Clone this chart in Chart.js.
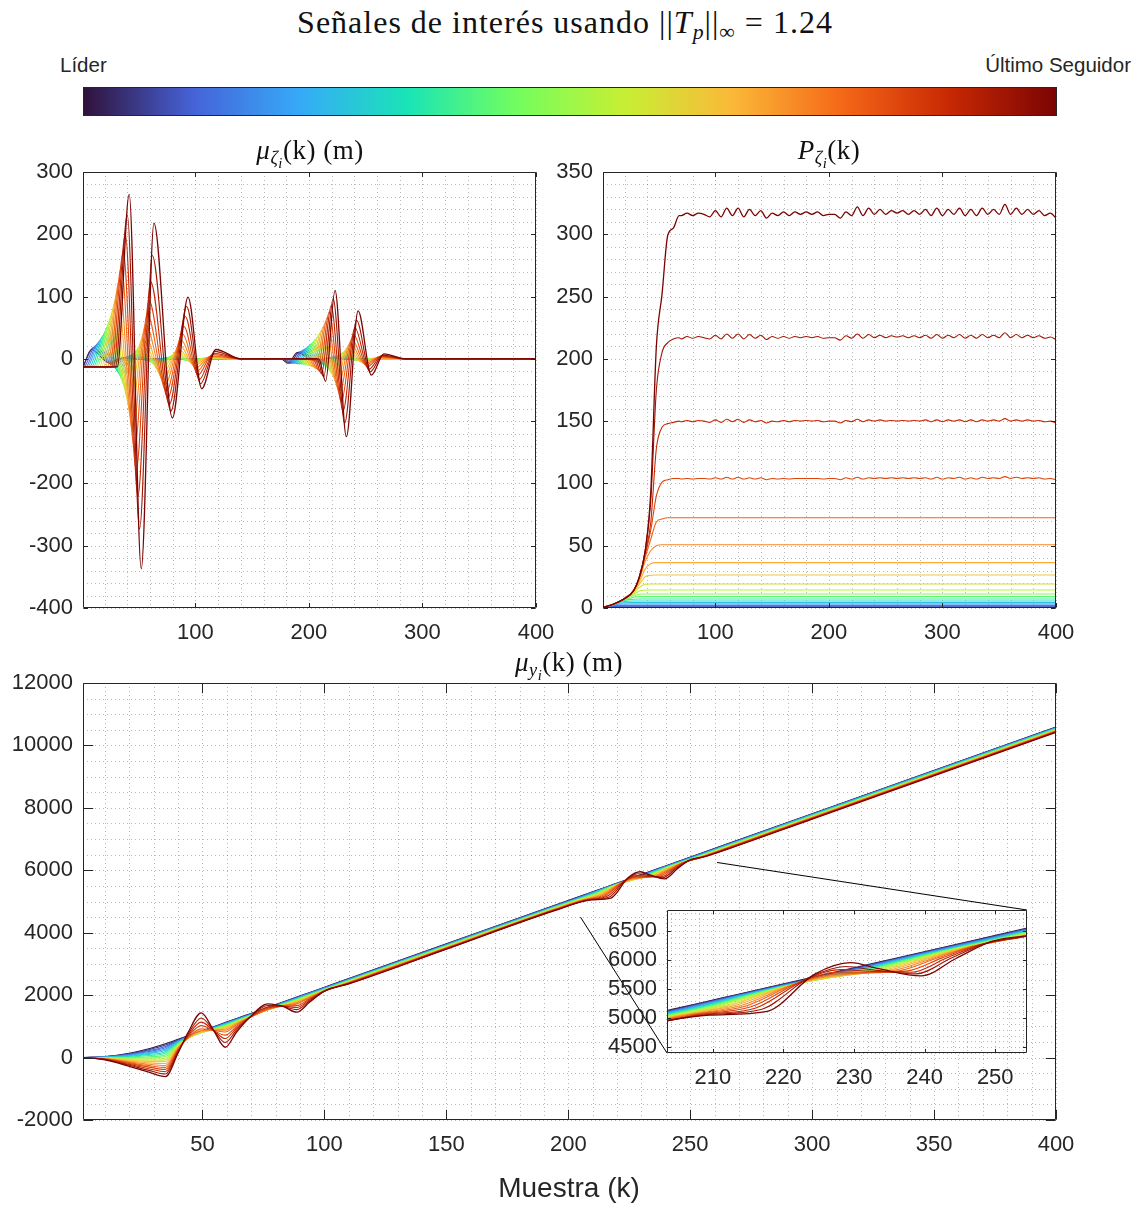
<!DOCTYPE html>
<html lang="es">
<head>
<meta charset="utf-8">
<title>Señales de interés</title>
<script src="https://cdn.jsdelivr.net/npm/chart.js@4.4.1/dist/chart.umd.min.js"></script>
<style>
  html, body { margin: 0; padding: 0; background: #fff; }
  body { position: relative; width: 1138px; height: 1205px; overflow: hidden;
         font-family: "Liberation Sans", Arial, Helvetica, sans-serif; color: #262626; }
  canvas { position: absolute; }
  .txt { position: absolute; white-space: nowrap; line-height: 1; }
  .c { transform: translate(-50%, -50%); }
  .tex { font-family: "Liberation Serif", "Times New Roman", serif; color: #111; }
  .tex sub { font-size: 68%; vertical-align: -0.28em; line-height: 0; }
  .tex sub sub { font-size: 80%; }
  #colorbar { position: absolute; left: 83px; top: 87px; width: 974px; height: 29px;
              box-sizing: border-box; border: 1px solid #262626; }
</style>
</head>
<body>
<canvas id="cMuZ" width="570" height="520" style="left:0;top:130px"></canvas>
<canvas id="cP" width="598" height="520" style="left:540px;top:130px"></canvas>
<canvas id="cMuY" width="1138" height="555" style="left:0;top:650px"></canvas>
<canvas id="cZoom" width="480" height="210" style="left:560px;top:885px"></canvas>

<div class="txt tex c" style="left:565px;top:22px;font-size:32px;letter-spacing:1px">Señales de interés usando ||<i>T</i><sub><i>p</i></sub>||<sub>∞</sub> = 1.24</div>
<div class="txt" style="left:60px;top:55px;font-size:20.5px">Líder</div>
<div class="txt" style="right:7px;top:55px;font-size:20.5px">Último Seguidor</div>
<div id="colorbar"></div>
<div class="txt tex c" style="left:310px;top:150px;font-size:27px;letter-spacing:0.5px"><i>μ</i><sub><i>ζ</i><sub><i>i</i></sub></sub>(k) (m)</div>
<div class="txt tex c" style="left:829px;top:150px;font-size:27px;letter-spacing:0.5px"><i>P</i><sub><i>ζ</i><sub><i>i</i></sub></sub>(k)</div>
<div class="txt tex c" style="left:569px;top:662px;font-size:27px;letter-spacing:0.5px"><i>μ</i><sub><i>y</i><sub><i>i</i></sub></sub>(k) (m)</div>
<div class="txt c" style="left:569px;top:1188px;font-size:28px">Muestra (k)</div>

<script>
// vehicle 0 is the leader, vehicle 19 the last follower
const SERIES = 20;

// ---- mu_zeta: knots of each vehicle's oscillation (k, value), one entry per vehicle ----
const muZ_start  = [-13,-13,-13,-13,-13,-13,-13,-13,-13,-13,-13,-13,-13,-13,-13,-13,-13,-13,-13,-13];
const muZ_onset1 = [1,1,1.5,3.3,5,6.8,8.5,10.3,12,13.8,15.5,17.3,19,20.8,22.5,24.3,26,27.8,29.5,31.2];
const muZ_p1k = [8.5,10.3,12,13.8,15.5,17.3,19,20.8,22.5,24.3,26,27.8,29.5,31.3,33,34.8,36.5,38.3,40,41.7];
const muZ_p1  = [15,18,21,24,28,33,38,44,51,60,69,80,94,109,126,147,171,199,231,264];
const muZ_n1k = [23.8,25.3,26.8,28.3,29.8,31.3,32.8,34.3,35.8,37.3,38.8,40.3,41.8,43.3,44.8,46.3,47.8,49.3,50.8,52.3];
const muZ_n1  = [-6,-8,-9,-12,-14,-18,-22,-27,-33,-41,-51,-63,-77,-95,-118,-145,-179,-221,-273,-337];
const muZ_p2k = [35,36.5,38,39.5,41,42.5,44,45.5,47,48.5,50,51.5,53,54.5,56,57.5,59,60.5,62,63.5];
const muZ_p2  = [1,2,2,3,4,5,6,8,11,14,18,24,32,42,55,72,94,124,166,218];
const muZ_n2k = [55,56.3,57.6,58.9,60.2,61.5,62.8,64.1,65.4,66.7,68,69.3,70.6,71.9,73.2,74.5,75.8,77.1,78.4,79.7];
const muZ_n2  = [-1,-1,-1,-2,-2,-3,-4,-6,-8,-11,-15,-20,-26,-33,-41,-52,-62,-73,-84,-95];
const muZ_p3k = [70.7,71.9,73.1,74.3,75.5,76.7,77.9,79.1,80.3,81.5,82.7,83.9,85.1,86.3,87.5,88.7,89.9,91.1,92.3,93.5];
const muZ_p3  = [0,0,1,1,1,2,2,3,5,6,9,12,16,22,30,40,52,68,84,99];
const muZ_n3k = [84.7,85.8,86.9,88,89.1,90.2,91.3,92.4,93.5,94.6,95.7,96.8,97.9,99,100.1,101.2,102.3,103.4,104.5,105.6];
const muZ_n3  = [0,0,0,0,-1,-1,-1,-2,-2,-3,-4,-6,-8,-11,-15,-20,-26,-33,-40,-48];
const muZ_p4k = [99,100,101,102,103,104,105,106,107,108,109,110,111,112,113,114,115,116,117,118];
const muZ_p4  = [0,0,0,0,0,0,0,0,1,1,1,2,2,3,4,5,7,9,12,15];

const muZ_onset2 = [175.5,177.2,179,180.7,182.5,184.2,186,187.7,189.5,191.2,193,194.7,196.5,198.2,200,201.7,203.5,205.2,207,208.7];
const muZ_b0k = [181.5,183.2,185,186.7,188.5,190.2,192,193.7,195.5,197.2,199,200.7,202.5,204.2,206,207.7,209.5,211.2,213,214.7];
const muZ_b0  = [-7,-7,-7,-7,-7,-8,-8,-8,-9,-9,-10,-11,-12,-13,-15,-17,-20,-24,-29,-36];
const muZ_b1k = [189.8,191.5,193.3,195,196.8,198.5,200.3,202,203.8,205.5,207.3,209,210.8,212.5,214.3,216,217.8,219.5,221.3,223];
const muZ_b1  = [10,11,12,14,16,18,21,24,27,31,35,40,45,51,58,66,75,85,97,110];
const muZ_b2k = [204.5,206,207.5,209,210.5,212,213.5,215,216.5,218,219.5,221,222.5,224,225.5,227,228.5,230,231.5,233];
const muZ_b2  = [-3,-3,-4,-5,-6,-8,-9,-11,-14,-17,-21,-25,-31,-38,-46,-56,-69,-84,-103,-125];
const muZ_b3k = [216.7,218.1,219.5,220.9,222.3,223.7,225.1,226.5,227.9,229.3,230.7,232.1,233.5,234.9,236.3,237.7,239.1,240.5,241.9,243.3];
const muZ_b3  = [1,1,2,2,3,3,4,5,7,9,11,13,17,21,26,32,40,50,62,77];
const muZ_b4k = [232.2,233.4,234.6,235.8,237,238.2,239.4,240.6,241.8,243,244.2,245.4,246.6,247.8,249,250.2,251.4,252.6,253.8,255];
const muZ_b4  = [0,0,0,0,0,-1,-1,-1,-2,-2,-3,-4,-5,-6,-8,-10,-13,-17,-21,-26];
const muZ_b5k = [247,248,249,250,251,252,253,254,255,256,257,258,259,260,261,262,263,264,265,266];
const muZ_b5  = [0,0,0,0,0,0,0,0,0,0,1,1,1,2,2,3,4,5,6,8];
const muZ_rest = [140, 285, 400];   // back to zero between and after the manoeuvres

// ---- P_zeta: common rise, then the settled level (vehicles 16..19 keep a ripple) ----
const pRiseK = [1,10,19,28,33,38,43,48,53,58,63,68];
const pRise = [
  [0.1,0.3,0.3,0.3,0.3,0.3,0.3,0.3,0.3,0.3,0.3,0.3],
  [0.2,0.8,0.8,0.8,0.8,0.8,0.8,0.8,0.8,0.8,0.8,0.8],
  [0.3,1.3,1.4,1.4,1.4,1.4,1.4,1.4,1.4,1.4,1.4,1.4],
  [0.4,1.9,2.1,2.1,2.1,2.1,2.1,2.1,2.1,2.1,2.1,2.1],
  [0.4,2.5,3.2,3.2,3.2,3.2,3.2,3.2,3.2,3.2,3.2,3.2],
  [0.5,2.8,4.2,4.3,4.3,4.3,4.3,4.3,4.3,4.3,4.3,4.3],
  [0.5,3,5.2,5.6,5.6,5.6,5.6,5.6,5.6,5.6,5.6,5.6],
  [0.5,3,6,7,7.2,7.2,7.2,7.2,7.2,7.2,7.2,7.2],
  [0.5,3,6.5,8.6,9.1,9.1,9.1,9.1,9.1,9.1,9.1,9.1],
  [0.5,3,6.8,9.8,11,11.2,11.2,11.2,11.2,11.2,11.2,11.2],
  [0.5,3,7,11,13.6,14.3,14.4,14.4,14.4,14.4,14.4,14.4],
  [0.5,3,7,12,16.5,19,19.3,19.3,19.3,19.3,19.3,19.3],
  [0.5,3,7,13,19,25,26.3,26.5,26.5,26.5,26.5,26.5],
  [0.5,3,7,13.5,21,31,35.5,36.4,36.4,36.4,36.4,36.4],
  [0.5,3,7,14,23,37,46,50,50.8,50.8,50.8,50.8],
  [0.5,3,7,14,24,40,55,69,71.5,72.5,72.5,72.5],
  [0.5,3,7,14,24,42,62,90,101,103,104,104],
  [0.5,3,7,14,25,44,68,128,145,148,149,150],
  [0.5,3,7,14,25,45,85,175,205,213,216,217],
  [0.5,3,7,14,25,45,92,210,252,299,305,315]
];
const pPlatK = Array.from({ length: 67 }, (_, j) => 70 + 5 * j);
const pPlat16 = [103.5,104,103.5,104,104,103.5,
  104.5,103.5,105,103.5,105,103.5,104.5,103.5,104.5,103,104,103.5,104,103.5,104,104,104,104,104,103.5,
  104,104,103,104.5,103.5,105,103.5,104.5,104,104.5,104,104.5,104,104.5,104,104.5,104,104.5,103.5,105,
  103.5,104.5,104,105,103.5,104.5,103.5,105,104,104.5,104,105.5,104,105,104,104.5,104,104.5,103.5,104,
  103];
const pPlat17 = [149.5,150.5,149.5,150.5,150,149,
  151,149,151.5,149.5,151.5,149,151,149.5,150.5,148.5,150,149.5,150.5,149.5,150.5,150,150.5,150,150.5,149.5,
  150,150,148.5,150.5,149.5,151.5,149.5,151,150,151,150,150.5,150,150.5,150,150.5,150,151,149.5,151,
  149.5,151,150,151,149.5,151,149.5,151,150,151,150,152,150,151,150,151,150,150.5,149.5,150,
  148.5];
const pPlat18 = [216,218,216.5,218,217,216,
  219,216,220,216.5,220,216,219.5,216.5,219,215.5,218,216.5,218,216.5,218,217,218,217,218,216.5,
  217,217,215,218.5,216.5,220,216.5,219.5,217,219,217,218.5,217.5,218.5,217,218.5,217,219,216.5,219.5,
  216.5,219,217,219.5,216.5,219,216.5,219.5,217,219,217,221,217,219.5,217,219,217,218.5,216.5,217.5,
  215.5];
const pPlat19 = [315,317,315,317,316,314,
  319,314,321,315,321,314,320,315,319,313,317,315,318,315,318,316,318,316,318,315,
  316,316,313,318,315,322,315,321,316,320,316,319,317,319,316,319,316,320,315,321,
  315,320,316,321,315,320,315,321,316,320,316,324,316,321,316,320,316,319,315,317,
  313];
const pPlat = { 16: pPlat16, 17: pPlat17, 18: pPlat18, 19: pPlat19 };

// ---- mu_y: positions. first manoeuvre on shared samples, second one lagged per vehicle ----
const muY_k1 = [1,10,20,28,34.8,40,44,49.5,54.5,59.3,64,69,76.8,83,88.7,94,100,110,150,195];
const muY_e1 = [
  [0,31,140,282,442,585,696,849,988,1122,1252,1391,1608,1780,1939,2086,2253,2531,3643,4894],
  [0,27,123,252,400,568,687,840,979,1113,1243,1382,1599,1771,1930,2077,2244,2522,3634,4885],
  [0,23,106,222,358,550,678,831,970,1104,1234,1373,1590,1762,1921,2068,2235,2513,3625,4876],
  [0,19,90,192,316,533,670,826,961,1092,1224,1364,1582,1753,1910,2059,2226,2504,3616,4867],
  [0,15,73,162,274,515,662,819,952,1081,1214,1355,1574,1744,1900,2049,2217,2495,3607,4858],
  [0,11,56,132,232,498,654,812,943,1071,1204,1346,1566,1735,1891,2040,2208,2486,3598,4849],
  [0,7,39,102,190,481,646,806,934,1059,1194,1337,1558,1726,1880,2030,2199,2477,3589,4840],
  [0,2,18,64,137,459,638,801,926,1047,1184,1328,1551,1717,1870,2020,2190,2468,3580,4831],
  [0,-3,-3,26,84,437,632,800,918,1031,1172,1320,1545,1708,1858,2010,2182,2459,3571,4822],
  [0,-8,-24,-11,32,415,626,798,910,1016,1161,1312,1538,1700,1845,2000,2174,2450,3562,4813],
  [0,-13,-45,-49,-21,394,621,801,901,998,1148,1303,1534,1692,1832,1989,2166,2441,3553,4804],
  [0,-18,-66,-86,-73,372,617,807,894,976,1133,1295,1530,1683,1816,1977,2158,2432,3544,4795],
  [0,-24,-87,-124,-126,350,615,817,886,952,1118,1287,1529,1675,1800,1964,2150,2423,3535,4786],
  [0,-30,-112,-169,-189,324,616,838,880,918,1098,1280,1531,1667,1778,1950,2143,2414,3526,4777],
  [0,-36,-137,-214,-252,298,620,867,874,878,1076,1273,1536,1660,1753,1934,2136,2405,3517,4768],
  [0,-42,-162,-259,-315,272,633,918,870,820,1047,1267,1550,1653,1719,1915,2131,2396,3508,4759],
  [0,-48,-188,-305,-379,246,663,1023,870,718,998,1264,1584,1649,1663,1885,2129,2387,3499,4750],
  [0,-55,-217,-357,-452,215,697,1135,872,609,948,1261,1621,1645,1604,1856,2128,2378,3490,4741],
  [0,-62,-246,-410,-526,185,738,1270,875,483,890,1263,1666,1642,1535,1820,2127,2369,3481,4732],
  [0,-70,-280,-470,-610,150,790,1435,880,331,820,1260,1723,1640,1454,1780,2130,2360,3472,4723]
];
// sample instant of each knot of the second manoeuvre, per vehicle
const muY_e2k = [
  [196.2,196.9,197.6,198.3,199,199.7,200.4,201.1,201.8,202.5,203.2,203.9,204.6,205.3,206,206.7,207.4,208.1,208.8,209.5],
  [204.2,204.9,205.6,206.3,207,207.7,208.4,209.1,209.8,210.5,211.2,211.9,212.6,213.3,214,214.7,215.4,216.1,216.8,217.5],
  [211.2,211.9,212.6,213.3,214,214.7,215.4,216.1,216.8,217.5,218.2,218.9,219.6,220.3,221,221.7,222.4,223.1,223.8,224.5],
  [216.2,216.9,217.6,218.3,219,219.7,220.4,221.1,221.8,222.5,223.2,223.9,224.6,225.3,226,226.7,227.4,228.1,228.8,229.5],
  [220.2,220.9,221.6,222.3,223,223.7,224.4,225.1,225.8,226.5,227.2,227.9,228.6,229.3,230,230.7,231.4,232.1,232.8,233.5],
  [226.2,226.9,227.6,228.3,229,229.7,230.4,231.1,231.8,232.5,233.2,233.9,234.6,235.3,236,236.7,237.4,238.1,238.8,239.5],
  [231.2,231.9,232.6,233.3,234,234.7,235.4,236.1,236.8,237.5,238.2,238.9,239.6,240.3,241,241.7,242.4,243.1,243.8,244.5],
  [236.2,236.9,237.6,238.3,239,239.7,240.4,241.1,241.8,242.5,243.2,243.9,244.6,245.3,246,246.7,247.4,248.1,248.8,249.5],
  [242.7,243.4,244.1,244.8,245.5,246.2,246.9,247.6,248.3,249,249.7,250.4,251.1,251.8,252.5,253.2,253.9,254.6,255.3,256]
];
const muY_e2 = [
  [4927,5150,5344,5483,5594,5761,5900,6039,6220],
  [4937,5159,5357,5497,5606,5770,5910,6051,6231],
  [4947,5167,5368,5508,5616,5778,5920,6061,6241],
  [4956,5176,5379,5519,5626,5787,5930,6072,6251],
  [4967,5185,5393,5533,5638,5796,5940,6083,6263],
  [4976,5192,5405,5546,5648,5804,5949,6094,6273],
  [4986,5201,5418,5560,5660,5812,5960,6106,6284],
  [4995,5206,5432,5575,5671,5818,5968,6118,6294],
  [5004,5212,5448,5591,5683,5824,5978,6130,6306],
  [5013,5218,5462,5607,5694,5829,5986,6142,6316],
  [5022,5224,5477,5623,5706,5836,5996,6155,6328],
  [5029,5224,5496,5644,5719,5836,6003,6168,6339],
  [5036,5226,5516,5666,5732,5838,6012,6182,6350],
  [5043,5224,5536,5689,5745,5836,6018,6196,6361],
  [5048,5217,5562,5718,5759,5830,6023,6212,6373],
  [5053,5209,5590,5751,5774,5822,6029,6230,6386],
  [5055,5195,5622,5788,5790,5809,6032,6248,6398],
  [5056,5175,5661,5834,5808,5789,6034,6269,6411],
  [5054,5147,5706,5888,5828,5762,6033,6293,6425],
  [5050,5110,5760,5953,5850,5726,6030,6320,6440]
];
const muY_tailK = [265, 300, 400];
const muY_tail = [
  [6840,7813,10593],[6831,7804,10584],[6822,7795,10575],[6813,7786,10566],[6804,7777,10557],
  [6795,7768,10548],[6786,7759,10539],[6777,7750,10530],[6768,7741,10521],[6759,7732,10512],
  [6750,7723,10503],[6741,7714,10494],[6732,7705,10485],[6723,7696,10476],[6714,7687,10467],
  [6705,7678,10458],[6696,7669,10449],[6687,7660,10440],[6678,7651,10431],[6669,7642,10422]
];
// zoomed window and where its guide lines start on the big axes
const ZOOM_X = [203.5, 254.5];
const ZOOM_Y = [4400, 6860];
const ZOOM_FROM = [[205, 4500], [261, 6250]];

// ---- turbo colormap ----
const TURBO = ['#30123b','#4662d7','#36aaf9','#1ae4b6','#72fe5e','#c7ef34','#fbb938','#f56918','#c92903','#7a0403'];
const TURBO_RGB = TURBO.map(h => [1, 3, 5].map(p => parseInt(h.substr(p, 2), 16)));
function turbo(t) {
  const f = Math.min(Math.max(t, 0), 1) * (TURBO_RGB.length - 1);
  const a = Math.floor(Math.min(f, TURBO_RGB.length - 2)), u = f - a;
  const c = TURBO_RGB[a].map((v, j) => Math.round(v + (TURBO_RGB[a + 1][j] - v) * u));
  return 'rgb(' + c.join(',') + ')';
}
const colors = [];
for (let i = 0; i < SERIES; i++) colors.push(turbo(i / (SERIES - 1)));

const stops = [];
for (let j = 0; j <= 60; j++) stops.push(turbo(j / 60) + ' ' + (j / 60 * 100).toFixed(2) + '%');
document.getElementById('colorbar').style.background = 'linear-gradient(to right,' + stops.join(',') + ')';

// ---- build the traces ----
function trace(points, i) {
  const data = [];
  points.forEach(([x, y]) => { if (!data.length || x > data[data.length - 1].x) data.push({ x, y }); });
  return { data, borderColor: colors[i], borderWidth: i === SERIES - 1 ? 1.3 : 1.1, pointRadius: 0,
           fill: false, clip: 0, cubicInterpolationMode: 'monotone' };
}

const muZ_wave1 = [[muZ_p1k, muZ_p1], [muZ_n1k, muZ_n1], [muZ_p2k, muZ_p2], [muZ_n2k, muZ_n2],
                   [muZ_p3k, muZ_p3], [muZ_n3k, muZ_n3], [muZ_p4k, muZ_p4]];
const muZ_wave2 = [[muZ_b0k, muZ_b0], [muZ_b1k, muZ_b1], [muZ_b2k, muZ_b2], [muZ_b3k, muZ_b3],
                   [muZ_b4k, muZ_b4], [muZ_b5k, muZ_b5]];

function muZPoints(i) {
  const pts = [[1, muZ_start[i]], [muZ_onset1[i], muZ_start[i]]];
  muZ_wave1.forEach(([k, v]) => pts.push([k[i], v[i]]));
  pts.push([muZ_rest[0], 0], [muZ_onset2[i], 0]);
  muZ_wave2.forEach(([k, v]) => pts.push([k[i], v[i]]));
  pts.push([muZ_rest[1], 0], [muZ_rest[2], 0]);
  return pts;
}
function pPoints(i) {
  const pts = pRiseK.map((k, j) => [k, pRise[i][j]]);
  if (pPlat[i]) pPlatK.forEach((k, j) => pts.push([k, pPlat[i][j]]));
  else pts.push([400, pRise[i][pRise[i].length - 1]]);
  return pts;
}
function muYPoints(i) {
  const pts = muY_k1.map((k, j) => [k, muY_e1[i][j]]);
  muY_e2k.forEach((row, j) => pts.push([row[i], muY_e2[i][j]]));
  muY_tailK.forEach((k, j) => pts.push([k, muY_tail[i][j]]));
  return pts;
}
function datasets(fn) {
  const out = [];
  for (let i = SERIES - 1; i >= 0; i--) out.push(trace(fn(i), i));   // last follower drawn on top
  return out;
}

// ---- axes look: dotted grid, box, inward ticks ----
const FONT = '"Liberation Sans", Arial, Helvetica, sans-serif';
const INK = '#262626';

const matlabAxes = {
  id: 'matlabAxes',
  beforeDatasetsDraw(chart, args, o) {
    const { ctx, chartArea: a, scales: { x, y } } = chart;
    ctx.save();
    if (o.fill) { ctx.fillStyle = '#fff'; ctx.fillRect(a.left, a.top, a.right - a.left, a.bottom - a.top); }
    ctx.beginPath();
    for (let n = Math.ceil(x.min / o.gx); n * o.gx <= x.max + 1e-9; n++) {
      const px = Math.round(x.getPixelForValue(n * o.gx)) + 0.5;
      ctx.moveTo(px, a.top); ctx.lineTo(px, a.bottom);
    }
    for (let n = Math.ceil(y.min / o.gy); n * o.gy <= y.max + 1e-9; n++) {
      const py = Math.round(y.getPixelForValue(n * o.gy)) + 0.5;
      ctx.moveTo(a.left, py); ctx.lineTo(a.right, py);
    }
    ctx.setLineDash([1, 3]);
    ctx.strokeStyle = 'rgba(0,0,0,0.28)';
    ctx.lineWidth = 1;
    ctx.stroke();
    ctx.restore();
  },
  afterDraw(chart) {
    const { ctx, chartArea: a, scales: { x, y } } = chart;
    const len = 0.01 * Math.max(a.right - a.left, a.bottom - a.top);
    const L = Math.round(a.left) + 0.5, R = Math.round(a.right) - 0.5;
    const T = Math.round(a.top) + 0.5, B = Math.round(a.bottom) - 0.5;
    ctx.save();
    ctx.strokeStyle = INK; ctx.lineWidth = 1;
    ctx.beginPath();
    x.ticks.forEach(t => {
      const px = Math.round(x.getPixelForValue(t.value)) + 0.5;
      ctx.moveTo(px, B); ctx.lineTo(px, B - len);
      ctx.moveTo(px, T); ctx.lineTo(px, T + len);
    });
    y.ticks.forEach(t => {
      const py = Math.round(y.getPixelForValue(t.value)) + 0.5;
      ctx.moveTo(L, py); ctx.lineTo(L + len, py);
      ctx.moveTo(R, py); ctx.lineTo(R - len, py);
    });
    ctx.rect(L, T, R - L, B - T);
    ctx.stroke();
    ctx.restore();
  }
};

function scaleCfg(min, max, ticks, fit, pad) {
  return {
    type: 'linear', min, max,
    grid: { display: false, drawTicks: false }, border: { display: false },
    afterBuildTicks: s => { s.ticks = ticks.map(v => ({ value: v })); },
    afterFit: fit,
    ticks: { font: { family: FONT, size: 22 }, color: INK, padding: pad, autoSkip: false,
             maxRotation: 0, callback: v => String(v) }
  };
}
function range(a, b, s) { const r = []; for (let v = a; v <= b; v += s) r.push(v); return r; }

function makeChart(id, sets, cfg, extra) {
  return new Chart(document.getElementById(id), {
    type: 'line',
    data: { datasets: sets },
    options: {
      responsive: false, animation: false, devicePixelRatio: 1, events: [],
      layout: { padding: cfg.pad },
      elements: { line: { capBezierPoints: false } },
      plugins: { legend: { display: false }, tooltip: { enabled: false }, title: { display: false },
                 matlabAxes: cfg.grid },
      scales: {
        x: scaleCfg(cfg.x[0], cfg.x[1], cfg.xt, s => { s.height = cfg.xh; }, 12),
        y: scaleCfg(cfg.y[0], cfg.y[1], cfg.yt, s => { s.width = cfg.yw; }, 10)
      }
    },
    plugins: [matlabAxes].concat(extra || [])
  });
}

makeChart('cMuZ', datasets(muZPoints), {
  pad: { top: 42, right: 34, left: 0, bottom: 0 }, xh: 42, yw: 83,
  x: [1, 400], xt: [100, 200, 300, 400], y: [-400, 300], yt: range(-400, 300, 100),
  grid: { gx: 20, gy: 20 }
});

makeChart('cP', datasets(pPoints), {
  pad: { top: 42, right: 82, left: 0, bottom: 0 }, xh: 42, yw: 63,
  x: [1, 400], xt: [100, 200, 300, 400], y: [0, 350], yt: range(0, 350, 50),
  grid: { gx: 20, gy: 10 }
});

const zoomChart = makeChart('cZoom', datasets(muYPoints), {
  pad: { top: 25, right: 13, left: 0, bottom: 0 }, xh: 42, yw: 107,
  x: ZOOM_X, xt: [210, 220, 230, 240, 250], y: ZOOM_Y, yt: [4500, 5000, 5500, 6000, 6500],
  grid: { gx: 2, gy: 100, fill: true }
});

const zoomLinks = {
  id: 'zoomLinks',
  afterDraw(chart) {
    const { ctx, scales: { x, y } } = chart;
    const ia = zoomChart.chartArea;
    const dx = zoomChart.canvas.offsetLeft - chart.canvas.offsetLeft;
    const dy = zoomChart.canvas.offsetTop - chart.canvas.offsetTop;
    const ends = [[dx + ia.left, dy + ia.bottom], [dx + ia.right, dy + ia.top]];
    ctx.save();
    ctx.strokeStyle = '#000'; ctx.lineWidth = 1;
    ctx.beginPath();
    ZOOM_FROM.forEach(([k, v], j) => {
      ctx.moveTo(x.getPixelForValue(k), y.getPixelForValue(v));
      ctx.lineTo(ends[j][0], ends[j][1]);
    });
    ctx.stroke();
    ctx.restore();
  }
};

makeChart('cMuY', datasets(muYPoints), {
  pad: { top: 33, right: 82, left: 0, bottom: 0 }, xh: 85, yw: 83,
  x: [1, 400], xt: range(50, 400, 50), y: [-2000, 12000], yt: range(-2000, 12000, 2000),
  grid: { gx: 10, gy: 500 }
}, [zoomLinks]);
</script>
</body>
</html>
